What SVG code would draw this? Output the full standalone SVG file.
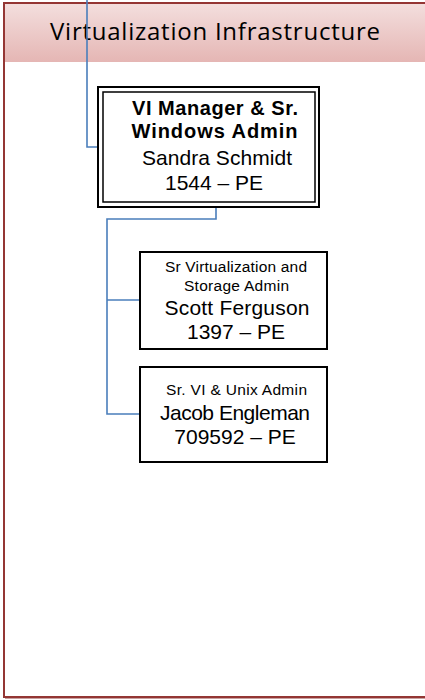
<svg xmlns="http://www.w3.org/2000/svg" width="425" height="700" viewBox="0 0 425 700">
<defs>
<linearGradient id="hdr" x1="0" y1="0" x2="0" y2="1">
<stop offset="0" stop-color="#f3dedd"/>
<stop offset="1" stop-color="#e5b6b4"/>
</linearGradient>
</defs>
<style>
.t{font-family:"Liberation Sans",Arial,sans-serif;fill:#000;text-anchor:middle}
.b{font-weight:bold;font-size:20px}
.r{font-size:21px}
.s{font-size:15.5px}
.box{fill:#fff;stroke:#000;stroke-width:2}
.conn{fill:none;stroke:#4a7ebb;stroke-width:1.6}
</style>
<rect x="0" y="0" width="425" height="700" fill="#fff"/>
<g id="frame">
<rect x="5" y="4" width="425" height="58" fill="url(#hdr)"/>
<rect x="4" y="3" width="430" height="694" fill="none" stroke="#943634" stroke-width="2"/>
<line x1="5" y1="698.5" x2="425" y2="698.5" stroke="#c9a09f" stroke-width="1"/>
<text x="215" y="40" font-family="Open Sans,'Noto Sans',sans-serif" font-size="24" fill="#000" text-anchor="middle" textLength="330" lengthAdjust="spacing">Virtualization Infrastructure</text>
</g>
<g id="connectors">
<polyline class="conn" points="87,0 87,147 99,147"/>
<polyline class="conn" points="216,207 216,219 107,219 107,414 140,414"/>
<line class="conn" x1="107" y1="300" x2="140" y2="300"/>
</g>
<g id="node-sandra">
<rect class="box" x="98" y="87" width="221" height="120"/>
<rect x="103" y="92" width="212" height="110" fill="none" stroke="#000" stroke-width="1.5"/>
<text class="t b" x="215" y="115" textLength="166" lengthAdjust="spacing">VI Manager &amp; Sr.</text>
<text class="t b" x="214.5" y="138" textLength="166" lengthAdjust="spacing">Windows Admin</text>
<text class="t r" x="217" y="165" textLength="150" lengthAdjust="spacing">Sandra Schmidt</text>
<text class="t r" x="214" y="190">1544 – PE</text>
</g>
<g id="node-scott">
<rect class="box" x="140" y="252" width="187" height="97"/>
<text class="t s" x="236" y="272" textLength="142" lengthAdjust="spacing">Sr Virtualization and</text>
<text class="t s" x="236.5" y="291" textLength="105" lengthAdjust="spacing">Storage Admin</text>
<text class="t r" x="237" y="315" textLength="145" lengthAdjust="spacing">Scott Ferguson</text>
<text class="t r" x="236" y="339">1397 – PE</text>
</g>
<g id="node-jacob">
<rect class="box" x="140" y="367" width="187" height="95"/>
<text class="t s" x="236.5" y="395" textLength="141" lengthAdjust="spacing">Sr. VI &amp; Unix Admin</text>
<text class="t r" x="235" y="420" textLength="150" lengthAdjust="spacing">Jacob Engleman</text>
<text class="t r" x="235" y="444">709592 – PE</text>
</g>
</svg>
